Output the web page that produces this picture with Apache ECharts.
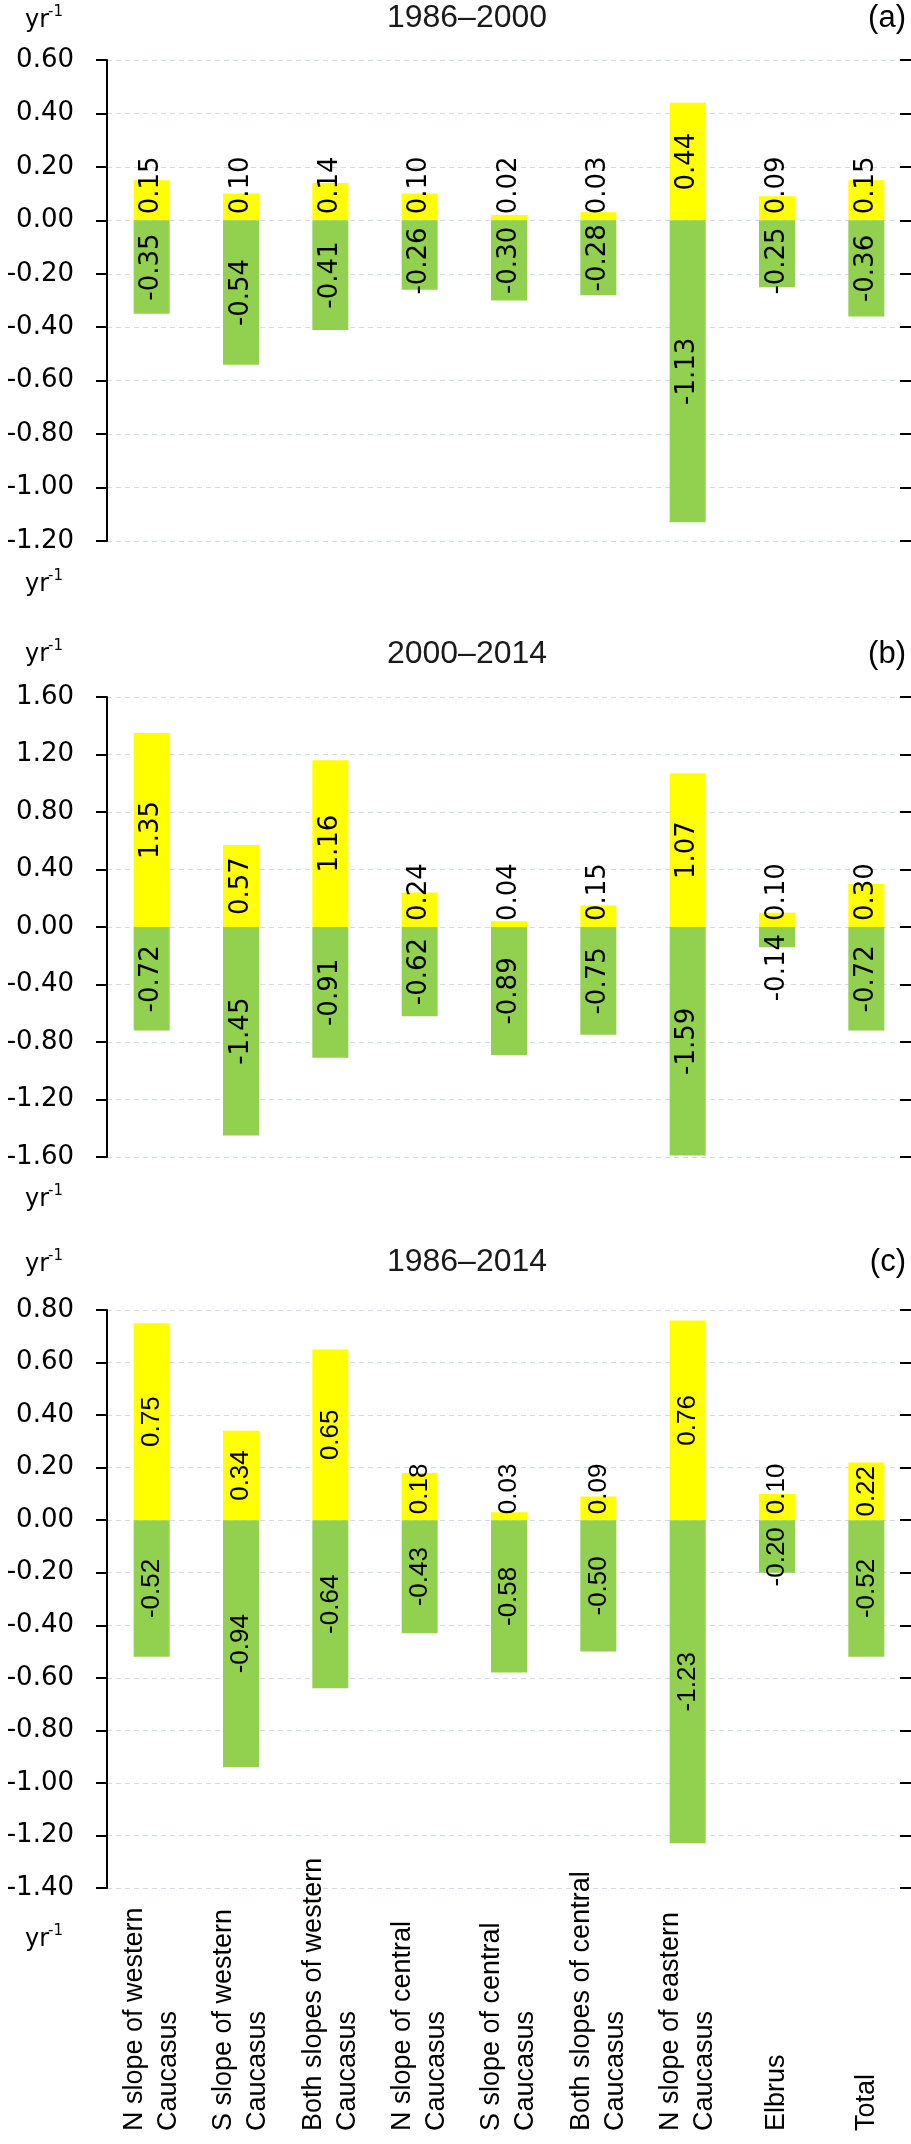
<!DOCTYPE html>
<html>
<head>
<meta charset="utf-8">
<script src="https://cdn.jsdelivr.net/npm/echarts@6/dist/echarts.min.js"></script>
<style>
html,body{margin:0;padding:0;background:#fff;}
#chart{width:911px;height:2144px;}
</style>
</head>
<body>
<div id="chart"></div>
<script>
// ---- data ----
const categories = [
  "N slope of western\nCaucasus",
  "S slope of western\nCaucasus",
  "Both slopes of western\nCaucasus",
  "N slope of central\nCaucasus",
  "S slope of central\nCaucasus",
  "Both slopes of central\nCaucasus",
  "N slope of eastern\nCaucasus",
  "Elbrus",
  "Total"
];
const titles = ["1986\u20132000", "2000\u20132014", "1986\u20132014"];
const panelTags = ["(a)", "(b)", "(c)"];

const posA = [0.15, 0.10, 0.14, 0.10, 0.02, 0.03, 0.44, 0.09, 0.15];
const negA = [-0.35, -0.54, -0.41, -0.26, -0.30, -0.28, -1.13, -0.25, -0.36];
const posB = [1.35, 0.57, 1.16, 0.24, 0.04, 0.15, 1.07, 0.10, 0.30];
const negB = [-0.72, -1.45, -0.91, -0.62, -0.89, -0.75, -1.59, -0.14, -0.72];
const posC = [0.75, 0.34, 0.65, 0.18, 0.03, 0.09, 0.76, 0.10, 0.22];
const negC = [-0.52, -0.94, -0.64, -0.43, -0.58, -0.50, -1.23, -0.20, -0.52];

const axisMin = [-1.2, -1.6, -1.4];
const axisMax = [0.6, 1.6, 0.8];
const axisStep = [0.2, 0.4, 0.2];

// ---- layout ----
const gridTop = [60, 697, 1310];
const gridHeight = [481, 460, 578];
const GRID_LEFT = 107, GRID_W = 804;
const labelFonts = [
  {family: 'DejaVu Sans', size: 26, w: {d: 0.636, p: 0.318, m: 0.361}},
  {family: 'DejaVu Sans', size: 26, w: {d: 0.636, p: 0.318, m: 0.361}},
  {family: 'Liberation Sans', size: 26, w: {d: 0.556, p: 0.278, m: 0.333}}
];

function textLen(s, f) {
  let n = 0;
  for (const ch of s) n += ch === '.' ? f.w.p : (ch === '-' ? f.w.m : f.w.d);
  return n * f.size;
}

function labelFor(v, panel) {
  const f = labelFonts[panel];
  const pxPerUnit = gridHeight[panel] / (axisMax[panel] - axisMin[panel]);
  const barPx = Math.abs(v) * pxPerUnit;
  const s = v.toFixed(2);
  const base = {show: true, rotate: 90, color: '#000', fontFamily: f.family, fontSize: f.size, formatter: s};
  if (barPx >= textLen(s, f) + 6) {
    return Object.assign(base, {position: 'inside', align: 'center', verticalAlign: 'middle'});
  }
  if (v >= 0) {
    return Object.assign(base, {position: 'insideBottom', align: 'left', verticalAlign: 'middle', distance: 6});
  }
  return Object.assign(base, {position: 'insideTop', align: 'right', verticalAlign: 'middle', distance: 7});
}

const posData = [posA, posB, posC];
const negData = [negA, negB, negC];

const grids = [], xAxes = [], yAxes = [], series = [], graphics = [];

function yr(x, y) {
  graphics.push({type: 'text', x: x, y: y, style: {text: 'yr', font: '24px "DejaVu Sans"', fill: '#000', textAlign: 'left', textVerticalAlign: 'middle'}});
  graphics.push({type: 'text', x: x + 23, y: y - 9, style: {text: '-1', font: '15px "DejaVu Sans"', fill: '#000', textAlign: 'left', textVerticalAlign: 'middle'}});
}

const yrTop = [21, 655, 1265];
const yrBottom = [585, 1200, 1940];
const titleY = [18, 654, 1262];

for (let p = 0; p < 3; p++) {
  grids.push({left: GRID_LEFT, width: GRID_W, top: gridTop[p], height: gridHeight[p], containLabel: false});
  xAxes.push({
    type: 'category', gridIndex: p, data: categories,
    axisLine: {show: false}, axisTick: {show: false},
    axisLabel: p === 2 ? {
      show: true, interval: 0, rotate: 90, align: 'left', verticalAlign: 'middle',
      margin: 243, fontFamily: 'Liberation Sans', fontSize: 27, lineHeight: 34, color: '#000'
    } : {show: false},
    splitLine: {show: false}
  });
  yAxes.push({
    type: 'value', gridIndex: p, min: axisMin[p], max: axisMax[p], interval: axisStep[p],
    axisLine: {show: true, lineStyle: {color: '#000', width: 2}},
    axisTick: {show: true, length: 11, lineStyle: {color: '#000', width: 2}},
    axisLabel: {formatter: v => v.toFixed(2), fontFamily: 'DejaVu Sans', fontSize: 26, color: '#000', margin: 33},
    splitLine: {show: true, lineStyle: {type: [5, 4], color: '#D3DAE4', width: 1}}
  });
  yAxes.push({
    type: 'value', gridIndex: p, min: axisMin[p], max: axisMax[p], interval: axisStep[p],
    axisLine: {show: false},
    axisTick: {show: true, inside: true, length: 11, lineStyle: {color: '#000', width: 2}},
    axisLabel: {show: false},
    splitLine: {show: false}
  });
  series.push({
    type: 'bar', xAxisIndex: p, yAxisIndex: 2 * p, barWidth: 36, barGap: '-100%',
    itemStyle: {color: '#FFFF00'},
    data: posData[p].map(v => ({value: v, label: labelFor(v, p)})),
    animation: false
  });
  series.push({
    type: 'bar', xAxisIndex: p, yAxisIndex: 2 * p, barWidth: 36, barGap: '-100%',
    itemStyle: {color: '#92D050'},
    data: negData[p].map(v => ({value: v, label: labelFor(v, p)})),
    animation: false
  });
  graphics.push({type: 'text', x: 467, y: titleY[p], style: {text: titles[p], font: '32px "Liberation Sans"', fill: '#1a1a1a', textAlign: 'center', textVerticalAlign: 'middle'}});
  graphics.push({type: 'text', x: 906, y: titleY[p], style: {text: panelTags[p], font: '31px "Liberation Sans"', fill: '#000', textAlign: 'right', textVerticalAlign: 'middle'}});
  yr(25, yrTop[p]);
  yr(25, yrBottom[p]);
}

const chart = echarts.init(document.getElementById('chart'), null, {renderer: 'canvas'});
chart.setOption({
  animation: false,
  backgroundColor: '#fff',
  grid: grids,
  xAxis: xAxes,
  yAxis: yAxes,
  series: series,
  graphic: graphics
});
</script>
</body>
</html>
